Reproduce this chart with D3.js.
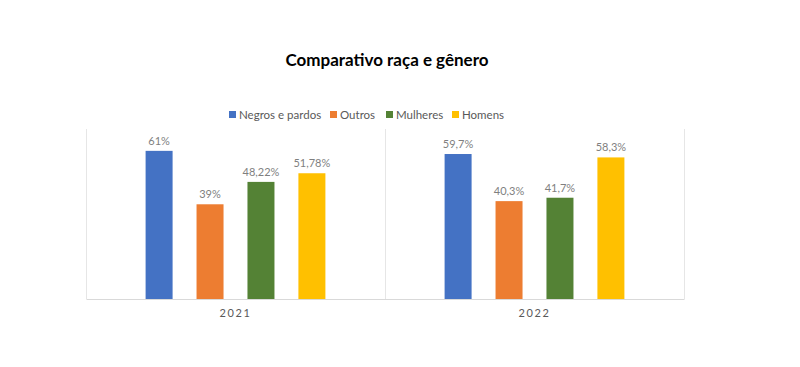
<!DOCTYPE html>
<html><head><meta charset="utf-8">
<script src="https://cdn.jsdelivr.net/npm/d3@7/dist/d3.min.js"></script>
<style>body{margin:0;background:#fff}svg{display:block}</style>
</head><body>
<svg id="c" width="800" height="367"></svg>
<script>
const years = ["2021", "2022"];
const series = ["Negros e pardos", "Outros", "Mulheres", "Homens"];
const colors = ["#4472c4", "#ed7d31", "#548235", "#ffc000"];
const values2021 = [61, 39, 48.22, 51.78];
const values2022 = [59.7, 40.3, 41.7, 58.3];
const labels2021 = ["61%", "39%", "48,22%", "51,78%"];
const labels2022 = ["59,7%", "40,3%", "41,7%", "58,3%"];
const valuesByYear = [values2021, values2022];
const labelsByYear = [labels2021, labels2022];

const svg = d3.select("#c");
const font = "Lato, 'Open Sans', sans-serif";
const pLeft = 86, pRight = 684, pTop = 129, pBottom = 299;

const x0 = d3.scaleBand().domain(years).range([pLeft, pRight]).padding(0);
const x1 = d3.scaleBand().domain(series).range([0, x0.bandwidth()]).paddingInner(0.47).paddingOuter(1.17);
const y = d3.scaleLinear().domain([0, 70]).range([pBottom, pTop]);

// title
svg.append("text").attr("x", 387).attr("y", 66).attr("text-anchor", "middle")
  .attr("font-family", font).attr("font-weight", "bold")
  .attr("font-size", 17).attr("fill", "#000").text("Comparativo raça e gênero");

// category separators
const sepX = [pLeft, ...years.map(yv => x0(yv) + x0.bandwidth())];
svg.selectAll("line.sep").data(sepX).enter().append("line")
  .attr("x1", d => Math.round(d) + 0.5).attr("x2", d => Math.round(d) + 0.5)
  .attr("y1", pTop).attr("y2", pBottom).attr("stroke", "#e6e6e6").attr("stroke-width", 1);

// bars
const data = [];
years.forEach((yr, i) => series.forEach((s, j) => data.push({yr, s, j, v: valuesByYear[i][j], lab: labelsByYear[i][j]})));
svg.selectAll("rect.bar").data(data).enter().append("rect")
  .attr("x", d => x0(d.yr) + x1(d.s)).attr("width", x1.bandwidth())
  .attr("y", d => y(d.v)).attr("height", d => y(0) - y(d.v))
  .attr("fill", d => colors[d.j]);

svg.selectAll("text.lab").data(data).enter().append("text")
  .attr("x", d => x0(d.yr) + x1(d.s) + x1.bandwidth() / 2).attr("y", d => y(d.v) - 6)
  .attr("text-anchor", "middle").attr("font-family", font).attr("font-size", 11)
  .attr("fill", "#7f7f7f").text(d => d.lab);

// baseline axis
const ax = svg.append("g").attr("transform", `translate(0,${pBottom})`)
  .call(d3.axisBottom(x0).tickSize(0).tickPadding(10));
ax.select(".domain").attr("stroke", "#d9d9d9");
ax.selectAll("text").attr("font-family", font).attr("font-size", 11)
  .attr("fill", "#595959").attr("letter-spacing", "1.6px");

// legend
const legX = [229, 330, 386, 452];
const leg = svg.selectAll("g.leg").data(series).enter().append("g")
  .attr("transform", (d, i) => `translate(${legX[i]},115)`);
leg.append("rect").attr("x", 0).attr("y", -4).attr("width", 7).attr("height", 7)
  .attr("fill", (d, i) => colors[i]);
leg.append("text").attr("x", 10).attr("y", 4).attr("font-family", font)
  .attr("font-size", 11.5).attr("fill", "#595959").text(d => d);
</script>
</body></html>
